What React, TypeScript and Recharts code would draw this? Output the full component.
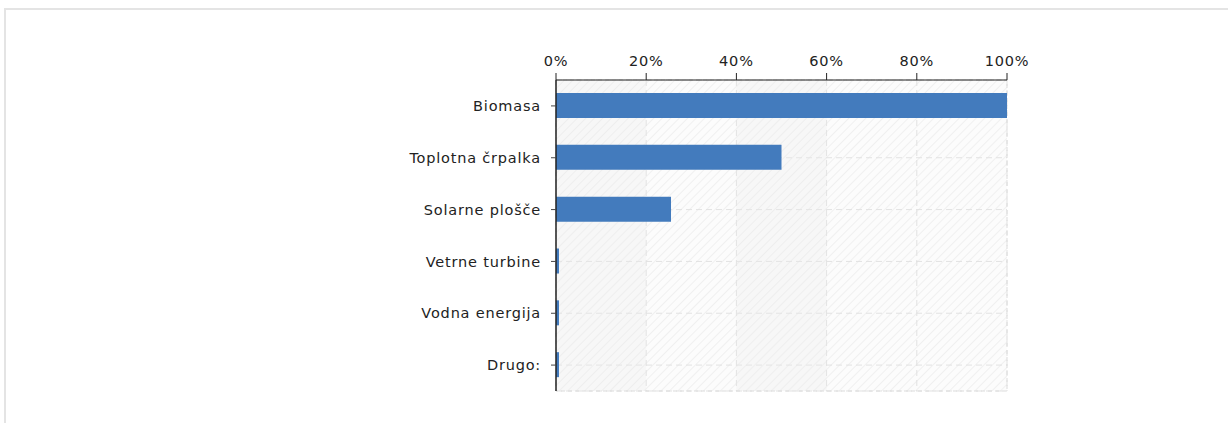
import React from 'react';
import { BarChart, Bar, XAxis, YAxis, CartesianGrid, ReferenceArea } from 'recharts';

const categories = ['Biomasa', 'Toplotna črpalka', 'Solarne plošče', 'Vetrne turbine', 'Vodna energija', 'Drugo:'];
const shares = [100, 50, 25.5, 0, 0, 0];
const percentTicks = [0, 20, 40, 60, 80, 100];

const data = categories.map((name, i) => ({ name, value: shares[i] }));

const tickStyle = { fontFamily: '"DejaVu Sans", sans-serif', fontSize: 14.5, fill: '#222', letterSpacing: 0.8 };

const App: React.FC = () => {
  return (
    <div
      style={{
        position: 'absolute',
        left: 4,
        top: 8,
        width: 1224,
        height: 415,
        borderTop: '2px solid #e4e4e4',
        borderLeft: '2px solid #e4e4e4',
        background: '#fff',
      }}
    >
      <BarChart
        width={1222}
        height={413}
        data={data}
        layout="vertical"
        margin={{ top: 40, right: 221, bottom: 32, left: 400 }}
        barCategoryGap={0}
      >
        <defs>
          <pattern id="hatch" width="6" height="6" patternUnits="userSpaceOnUse" patternTransform="rotate(45)">
            <rect width="6" height="6" fill="#fcfcfc" />
            <line x1="0" y1="0" x2="0" y2="6" stroke="#ededed" strokeWidth="1.5" />
          </pattern>
        </defs>
        <CartesianGrid fill="url(#hatch)" stroke="#e2e2e2" strokeDasharray="6 4" />
        <ReferenceArea x1={0} x2={20} fill="#ececec" fillOpacity={0.3} stroke="none" />
        <ReferenceArea x1={40} x2={60} fill="#ececec" fillOpacity={0.3} stroke="none" />
        <ReferenceArea x1={0} x2={100} fill="none" stroke="#dcdcdc" strokeDasharray="4 3" />
        <XAxis
          type="number"
          orientation="top"
          domain={[0, 100]}
          ticks={percentTicks}
          tickFormatter={(v: number) => `${v}%`}
          height={30}
          tick={tickStyle}
          tickSize={7}
          tickMargin={7}
          axisLine={{ stroke: '#222' }}
          tickLine={{ stroke: '#222' }}
        />
        <YAxis
          type="category"
          dataKey="name"
          width={150}
          tick={tickStyle}
          tickSize={5}
          tickMargin={10}
          axisLine={{ stroke: '#222', strokeWidth: 1.5 }}
          tickLine={{ stroke: '#444' }}
          interval={0}
        />
        <Bar dataKey="value" fill="#437bbd" barSize={25} minPointSize={3} isAnimationActive={false} />
      </BarChart>
    </div>
  );
};

export default App;
